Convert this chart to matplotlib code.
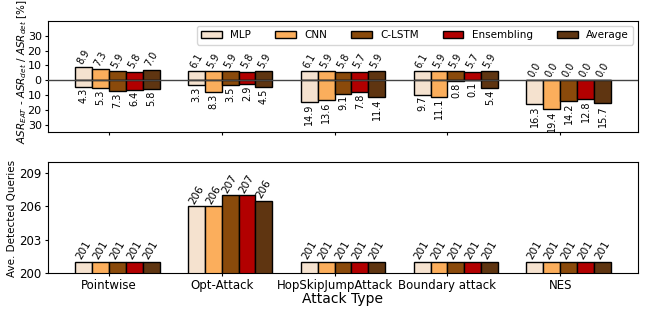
import numpy as np
import matplotlib
matplotlib.use("Agg")
import matplotlib.pyplot as plt

# ========= DATA =========
attacks = ["Pointwise", "Opt-Attack", "HopSkipJumpAttack", "Boundary attack", "NES"]
models = ["MLP", "CNN", "C-LSTM", "Ensembling", "Average"]
colors = ["#F5E2CF", "#FBAE5C", "#8A4A0B", "#B20000", "#5F3511"]

# upper panel: positive part (above zero) and negative part (below zero), per model
asr_up = {
    "MLP":        [8.9, 6.1, 6.1, 6.1, 0.0],
    "CNN":        [7.3, 5.9, 5.9, 5.9, 0.0],
    "C-LSTM":     [5.9, 5.9, 5.8, 5.9, 0.0],
    "Ensembling": [5.8, 5.8, 5.7, 5.7, 0.0],
    "Average":    [7.0, 5.9, 5.9, 5.9, 0.0],
}
asr_down = {
    "MLP":        [4.3, 3.3, 14.9, 9.7, 16.3],
    "CNN":        [5.3, 8.3, 13.6, 11.1, 19.4],
    "C-LSTM":     [7.3, 3.5, 9.1, 0.8, 14.2],
    "Ensembling": [6.4, 2.9, 7.8, 0.1, 12.8],
    "Average":    [5.8, 4.5, 11.4, 5.4, 15.7],
}

# lower panel: average detected queries
queries = {
    "MLP":        [201, 206, 201, 201, 201],
    "CNN":        [201, 206, 201, 201, 201],
    "C-LSTM":     [201, 207, 201, 201, 201],
    "Ensembling": [201, 207, 201, 201, 201],
    "Average":    [201, 206.5, 201, 201, 201],
}

# ========= PLOT =========
W = 0.15
x = np.arange(len(attacks))

fig = plt.figure(figsize=(6.46, 3.11), dpi=100)
ax1 = fig.add_axes([0.0743, 0.5756, 0.9133, 0.3569])
ax2 = fig.add_axes([0.0743, 0.1222, 0.9133, 0.3568])

for i, m in enumerate(models):
    xs = x + (i - 1.5) * W
    up = np.array(asr_up[m])
    dn = np.array(asr_down[m])
    ax1.bar(xs, up, W, color=colors[i], edgecolor="black", linewidth=1.0, label=m)
    ax1.bar(xs, -dn, W, color=colors[i], edgecolor="black", linewidth=1.0)
    for xi, v in zip(xs, up):
        ax1.text(xi, v + 1.0, f"{v:.1f}", rotation=60, ha="center", va="bottom", fontsize=7)
    for xi, v in zip(xs, dn):
        ax1.text(xi, -v - 1.0, f"{v:.1f}", rotation=90, ha="center", va="top", fontsize=7)

    q = np.array(queries[m])
    ax2.bar(xs, q, W, color=colors[i], edgecolor="black", linewidth=1.0)
    for xi, v in zip(xs, q):
        ax2.text(xi, v + 0.05, f"{int(v)}", rotation=60, ha="center", va="bottom", fontsize=7.5)

ax1.axhline(0, color="#444444", linewidth=1.0, zorder=3)
ax1.set_ylim(-35, 40)
ax1.set_yticks([-30, -20, -10, 0, 10, 20, 30])
ax1.set_yticklabels(["30", "20", "10", "0", "10", "20", "30"], fontsize=8)
ax1.set_xticks(x)
ax1.set_xticklabels([])
ax1.set_ylabel(r"$ASR_{EAT}$ - $ASR_{det}$ / $ASR_{det}$ [%]", fontsize=7.5)
ax1.yaxis.set_label_coords(-0.033, 0.54)
ax1.legend(loc="upper right", ncol=5, fontsize=7.5, columnspacing=2.3)

ax2.set_ylim(200, 210)
ax2.set_yticks([200, 203, 206, 209])
ax2.tick_params(axis="y", labelsize=8.5)
ax2.set_xticks(x)
ax2.set_xticklabels(attacks, fontsize=8.5)
ax2.set_ylabel("Ave. Detected Queries", fontsize=7.5)
ax2.yaxis.set_label_coords(-0.052, 0.49)
ax2.set_xlabel("Attack Type", fontsize=10, labelpad=0)

for ax in (ax1, ax2):
    ax.set_xlim(-0.5375, 4.6875)
    ax.tick_params(length=2.5, pad=2)

fig.savefig("out.png", dpi=100)
